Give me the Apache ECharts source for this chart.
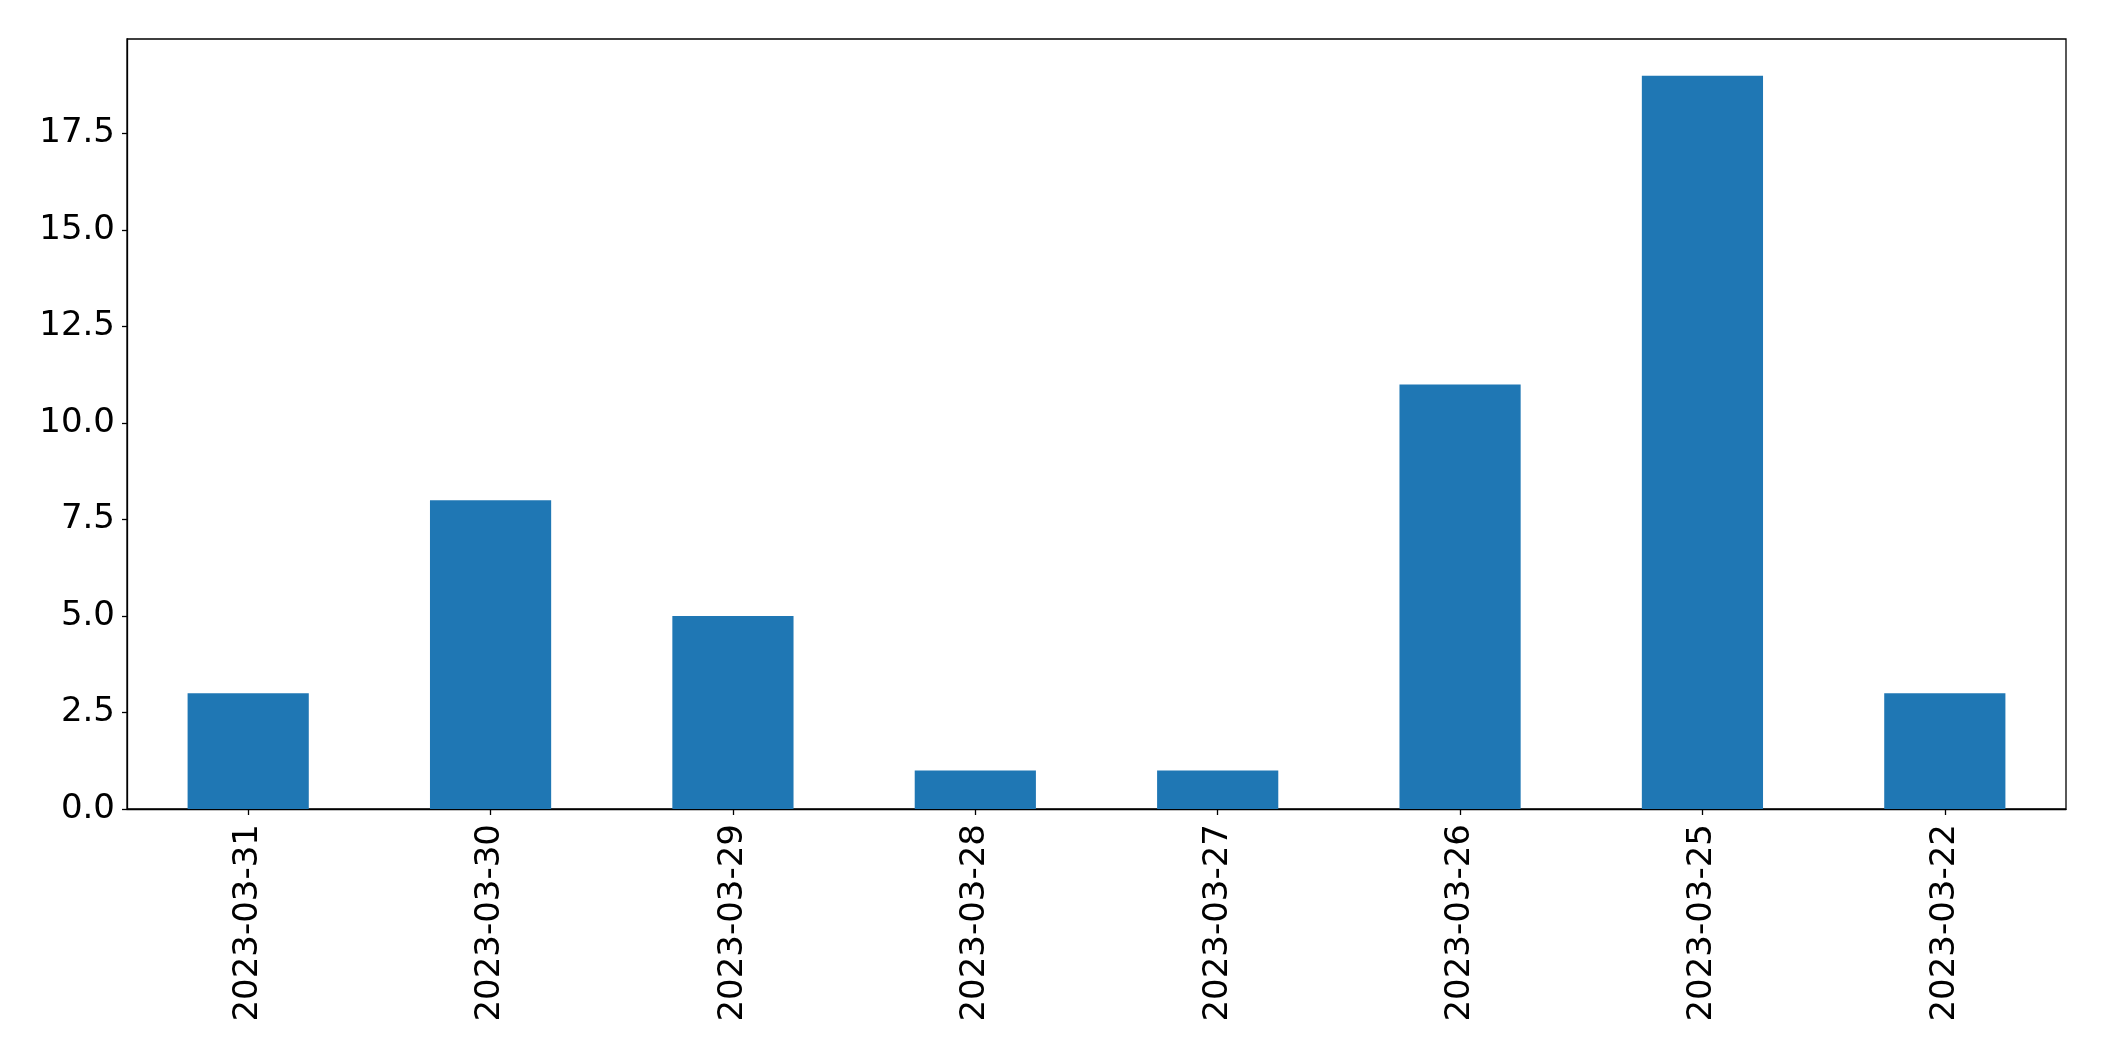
<!DOCTYPE html>
<html>
<head>
<meta charset="utf-8">
<script src="https://cdn.jsdelivr.net/npm/echarts@6/dist/echarts.min.js"></script>
<style>
html,body{margin:0;padding:0;background:#fff;}
#chart{width:2104px;height:1061px;}
</style>
</head>
<body>
<div id="chart"></div>
<script>
const categories = ['2023-03-31','2023-03-30','2023-03-29','2023-03-28','2023-03-27','2023-03-26','2023-03-25','2023-03-22'];
const values = [3, 8, 5, 1, 1, 11, 19, 3];
const yTicks = [0, 2.5, 5, 7.5, 10, 12.5, 15, 17.5];

const chart = echarts.init(document.getElementById('chart'), null, {renderer: 'canvas'});
const font = 'DejaVu Sans';
chart.setOption({
  animation: false,
  backgroundColor: '#ffffff',
  grid: {
    left: 127, top: 39, right: 38, bottom: 252,
    show: true, borderColor: '#000', borderWidth: 1.3, backgroundColor: 'transparent'
  },
  xAxis: {
    type: 'category',
    data: categories,
    axisLine: {show: true, lineStyle: {color: '#000', width: 1.3}},
    axisTick: {show: true, alignWithLabel: true, length: 6, lineStyle: {color: '#000', width: 1.3}},
    axisLabel: {rotate: 90, fontFamily: font, fontSize: 34, color: '#000', margin: 15, interval: 0},
    splitLine: {show: false}
  },
  yAxis: {
    type: 'value',
    min: 0,
    max: 19.95,
    axisLine: {show: true, lineStyle: {color: '#000', width: 1.3}},
    axisTick: {show: true, length: 5, lineStyle: {color: '#000', width: 1.3}, customValues: yTicks},
    axisLabel: {fontFamily: font, fontSize: 34, color: '#000', margin: 12,
      customValues: yTicks,
      formatter: v => v.toFixed(1)},
    splitLine: {show: false}
  },
  series: [{
    type: 'bar',
    data: values,
    barWidth: '50%',
    itemStyle: {color: '#1f77b4'}
  }]
});
</script>
</body>
</html>
